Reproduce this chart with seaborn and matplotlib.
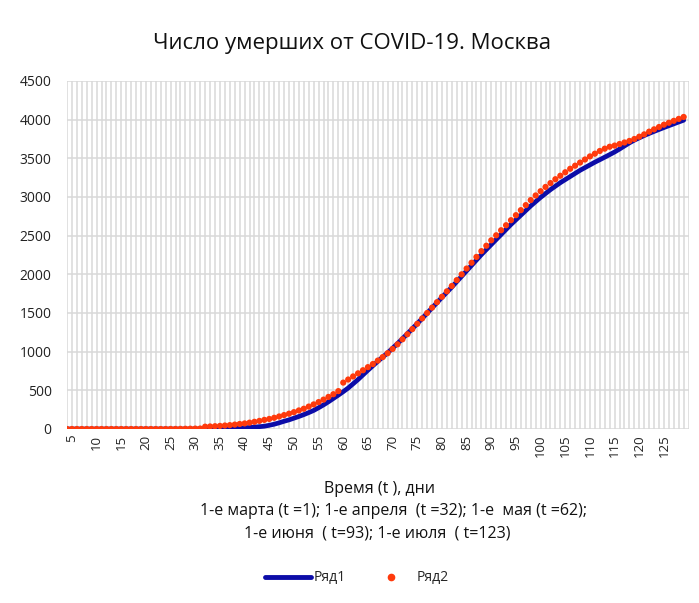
import matplotlib
matplotlib.use("Agg")
import matplotlib.pyplot as plt
from matplotlib.lines import Line2D
import pandas as pd
import seaborn as sns

# ---- data ----
days = list(range(4, 130))  # categories t = 4 .. 129

# Ряд1 : model curve (blue line)
series1 = [
    0, 0, 0, 0, 0, 0, 0, 0, 0, 0,            # t 4-13
    0, 0, 0, 0, 0, 0, 0, 0, 0, 0,            # t 14-23
    0, 0, 0, 0, 0, 0, 0,                     # t 24-30
    1, 1, 2, 3, 4, 5, 7, 9, 12, 16,          # t 31-40
    20, 25, 30, 36, 48, 62, 80, 100, 118, 140,
    162, 186, 212, 240, 275, 312, 352, 395, 438, 483,
    530, 585, 640, 700, 760, 818, 875, 930, 985, 1045,
    1105, 1168, 1232, 1297, 1363, 1430, 1498, 1566, 1634, 1702,
    1768, 1835, 1905, 1975, 2045, 2115, 2185, 2255, 2320, 2385,
    2450, 2515, 2580, 2645, 2705, 2765, 2825, 2885, 2940, 2995,
    3045, 3095, 3140, 3185, 3225, 3265, 3305, 3345, 3380, 3415,
    3450, 3482, 3515, 3548, 3582, 3620, 3660, 3700, 3735, 3765,
    3795, 3822, 3848, 3873, 3898, 3922, 3946, 3970, 3993,   # t 121-129
]

# Ряд2 : observed data (red dots)
series2 = [
    0, 0, 0, 0, 0, 0, 0, 0, 0, 0,            # t 4-13
    0, 0, 0, 0, 0, 0, 0, 0, 0, 0,            # t 14-23
    0, 1, 1, 2, 3, 4, 5, 6,                  # t 24-31
    30, 33, 36, 40, 45, 50, 57, 65, 72, 82,  # t 32-41
    93, 105, 118, 130, 145, 162, 180, 198, 218, 240,
    262, 290, 318, 348, 380, 415, 450, 490, 600, 640,
    680, 720, 760, 800, 840, 885, 930, 980, 1035, 1095,
    1160, 1225, 1292, 1360, 1430, 1500, 1570, 1640, 1710, 1780,
    1850, 1925, 2000, 2075, 2150, 2225, 2300, 2370, 2440, 2505,
    2570, 2635, 2700, 2765, 2830, 2895, 2960, 3020, 3075, 3130,
    3180, 3230, 3275, 3320, 3365, 3405, 3445, 3485, 3525, 3560,
    3595, 3625, 3650, 3665, 3685, 3705, 3725, 3750, 3780, 3810,
    3845, 3875, 3905, 3935, 3960, 3985, 4010, 4035,          # t 122-129
]

series_names = ["Ряд1", "Ряд2"]
x_ticks = list(range(5, 130, 5))
y_ticks = list(range(0, 4501, 500))

title = "Число умерших от COVID-19. Москва"
xlabel_lines = [
    "Время (t ), дни",
    "1-е марта (t =1); 1-е апреля  (t =32); 1-е  мая (t =62);",
    "1-е июня  ( t=93); 1-е июля  ( t=123)",
]

BLUE = "#0C0CA8"
RED = "#FF3A0C"
GRID = "#D9D9D9"

sns.set_theme(style="white")
plt.rcParams["font.family"] = ["Open Sans", "DejaVu Sans"]

W, H = 699, 603
fig = plt.figure(figsize=(W / 100, H / 100), dpi=100)
ax = fig.add_axes([67 / W, 1 - 429 / H, (688.6 - 67) / W, (429 - 81) / H])

df1 = pd.DataFrame({"t": days, "v": series1})
df2 = pd.DataFrame({"t": days, "v": series2})

sns.lineplot(data=df1, x="t", y="v", color=BLUE, linewidth=3.4, ax=ax,
             legend=False, zorder=2)
sns.scatterplot(data=df2, x="t", y="v", color=RED, s=20, edgecolor="none",
                ax=ax, legend=False, zorder=3)

ax.set_xlim(4, 130)
ax.set_ylim(0, 4500)
ax.set_xticks(x_ticks)
ax.set_xticks(list(range(4, 131)), minor=True)
ax.set_yticks(y_ticks)
ax.grid(which="both", axis="x", color=GRID, linewidth=1.1)
ax.grid(which="major", axis="y", color=GRID, linewidth=1.1)
ax.set_axisbelow(True)
for s in ax.spines.values():
    s.set_visible(False)
ax.set_xlabel("")
ax.set_ylabel("")
ax.tick_params(axis="y", length=0, pad=11, labelsize=10, labelcolor="#222222")
ax.tick_params(axis="x", which="both", length=0, pad=4, labelsize=9.5,
               labelcolor="#222222", labelrotation=90)

fig.text(352 / W, 1 - 44 / H, title, ha="center", va="center", fontsize=16,
         color="#111111")
for (xc, y), line in zip([(379, 489), (394, 511), (377, 534)], xlabel_lines):
    fig.text(xc / W, 1 - y / H, line, ha="center", va="center", fontsize=11.5,
             color="#111111")

handles = [Line2D([], [], color=BLUE, linewidth=3.5),
           Line2D([], [], color=RED, marker="o", linestyle="none", markersize=4.5)]
fig.legend(handles, series_names, loc="center", bbox_to_anchor=(357 / W, 1 - 578 / H),
           ncol=2, frameon=False, fontsize=10, handlelength=3.3, handletextpad=0.2,
           columnspacing=1.6)

fig.savefig("out.png", dpi=100)
